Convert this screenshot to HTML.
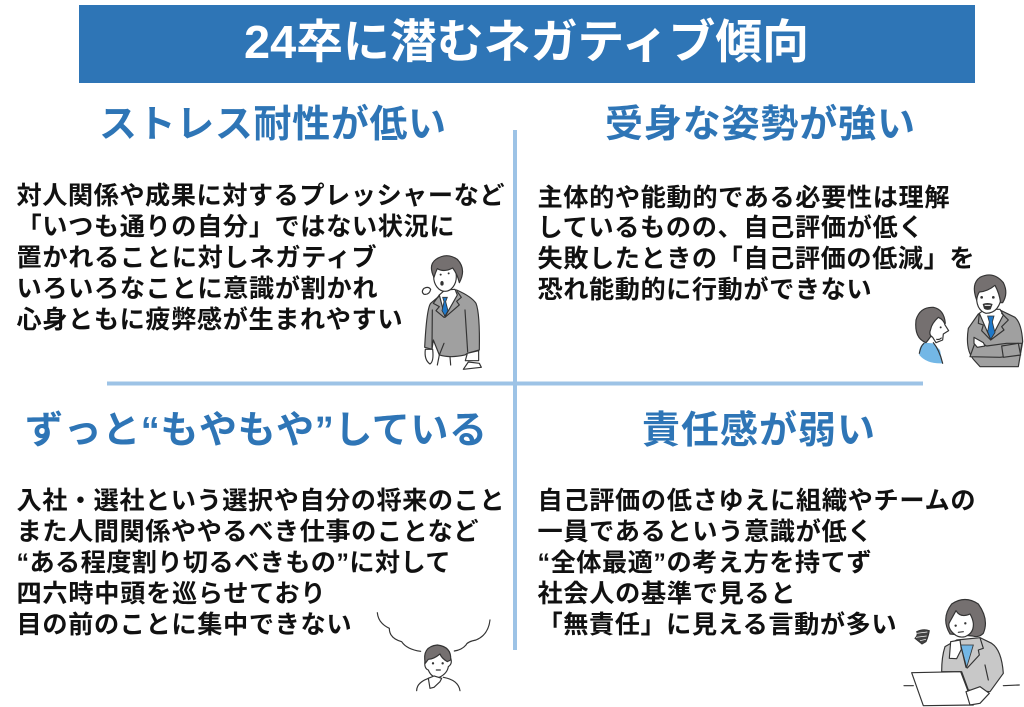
<!DOCTYPE html>
<html lang="ja">
<head>
<meta charset="utf-8">
<style>
html,body{margin:0;padding:0;background:#fff;width:1024px;height:707px;overflow:hidden}
svg{display:block}
text{font-family:"Liberation Sans","Noto Sans CJK JP",sans-serif;font-weight:700}
.b{font-size:25.2px;fill:#111}
.h{font-size:38px;fill:#2e75b6}
.s{stroke:#333;stroke-width:3.5;fill:none;stroke-linecap:round;stroke-linejoin:round}
.g{fill:#a0a0a0}.d{fill:#757070}.w{fill:#fff}.l{fill:#c8c8c8}.u{fill:#1f78c8}.c{fill:#73b7e6}
</style>
</head>
<body>
<svg width="1024" height="707" viewBox="0 0 1024 707" xmlns="http://www.w3.org/2000/svg">
<rect width="1024" height="707" fill="#fff"/>
<rect x="79" y="5" width="896" height="78" fill="#2e75b6"/>
<text x="244" y="58" font-size="46.5" fill="#fff" textLength="565" lengthAdjust="spacingAndGlyphs">24卒に潜むネガティブ傾向</text>

<rect x="513" y="130" width="4" height="520" fill="#9dc3e6"/>
<rect x="107" y="381.500" width="816" height="4" fill="#9dc3e6"/>

<text class="h" x="99" y="137" textLength="347">ストレス耐性が低い</text>
<text class="h" x="605" y="137" textLength="310">受身な姿勢が強い</text>
<text class="h" x="25" y="443" textLength="462">ずっと“もやもや”している</text>
<text class="h" x="642" y="443" textLength="233">責任感が弱い</text>

<text class="b" x="16.500" y="204" textLength="488">対人関係や成果に対するプレッシャーなど</text>
<text class="b" x="16.500" y="235" textLength="438">「いつも通りの自分」ではない状況に</text>
<text class="b" x="16.500" y="266" textLength="360">置かれることに対しネガティブ</text>
<text class="b" x="16.500" y="297" textLength="361">いろいろなことに意識が割かれ</text>
<text class="b" x="16.500" y="328" textLength="386">心身ともに疲弊感が生まれやすい</text>

<text class="b" x="537.500" y="206" textLength="412">主体的や能動的である必要性は理解</text>
<text class="b" x="537.500" y="236" textLength="386">しているものの、自己評価が低く</text>
<text class="b" x="537.500" y="267" textLength="437">失敗したときの「自己評価の低減」を</text>
<text class="b" x="537.500" y="298" textLength="334">恐れ能動的に行動ができない</text>

<text class="b" x="16.500" y="509" textLength="488">入社・選社という選択や自分の将来のこと</text>
<text class="b" x="16.500" y="540" textLength="462">また人間関係ややるべき仕事のことなど</text>
<text class="b" x="16.500" y="571" textLength="434">“ある程度割り切るべきもの”に対して</text>
<text class="b" x="16.500" y="602" textLength="309">四六時中頭を巡らせており</text>
<text class="b" x="16.500" y="633" textLength="335">目の前のことに集中できない</text>

<text class="b" x="537.500" y="509" textLength="438">自己評価の低さゆえに組織やチームの</text>
<text class="b" x="537.500" y="540" textLength="335">一員であるという意識が低く</text>
<text class="b" x="537.500" y="571" textLength="334">“全体最適”の考え方を持てず</text>
<text class="b" x="537.500" y="602" textLength="258">社会人の基準で見ると</text>
<text class="b" x="537.500" y="633" textLength="359">「無責任」に見える言動が多い</text>

<!-- person 1 -->
<g transform="translate(400 240) scale(.3333)">
<path class="s g" d="M118,168 L92,190 Q80,205 74,322 L96,328 L100,300 L118,345 Q150,355 195,345 L202,340 L238,330 Q240,220 228,190 Q215,170 170,150 L130,160Z"/>
<path class="s w" d="M118,165 L135,150 L165,148 L172,165 L135,230Z"/>
<path d="M128,172 L142,172 L137,185 L144,212 L135,228 L126,212 L132,185Z" class="u" stroke="#333" stroke-width="2.500"/>
<path class="s" d="M118,165 L100,190 L118,200 L108,212 L132,232 M172,155 L184,172 L170,184 L178,195 L135,232 M97,210 L96,325 M195,210 L203,335 M132,310 L118,345 M150,350 L152,375 M118,345 L112,375"/>
<ellipse class="s w" cx="135" cy="110" rx="34" ry="44"/>
<path class="s d" d="M102,112 Q84,75 108,58 Q140,36 172,58 Q200,88 178,128 Q172,102 158,84 Q132,98 112,86 Q106,98 102,112Z"/>
<path class="s w" d="M76,328 Q72,360 90,372 Q102,365 98,328Z"/>
<path class="s w" d="M202,340 L196,362 L236,362 L236,332Z"/>
<path class="s" fill="#555" d="M190,388 L205,366 L238,370 L244,382Z"/>
<path d="M72,145 Q62,155 72,163 Q88,165 92,148 Q85,138 72,145" class="s" stroke-width="3"/>
<ellipse cx="126" cy="130" rx="5" ry="7" fill="#333"/>
<circle cx="122" cy="104" r="3" fill="#333"/><circle cx="146" cy="100" r="3" fill="#333"/>
</g>

<!-- people 2 -->
<g transform="translate(900 260) scale(.3333)">
<path class="s g" d="M235,162 L205,205 Q195,270 222,300 L240,320 L355,320 L368,245 Q365,190 345,172 L300,150Z"/>
<path class="s w" d="M238,160 L255,148 L300,148 L310,165 L272,238Z"/>
<path class="u" stroke="#333" stroke-width="2.500" d="M263,168 L282,168 L277,186 L285,218 L272,238 L263,215 L268,186Z"/>
<path class="s" d="M238,160 L235,190 L250,195 L245,212 L272,240 M305,160 L325,180 L305,200 L312,210 L272,240"/>
<path class="s g" d="M228,240 L210,290 L300,292 L360,285 L366,250 L320,250 L260,258Z"/>
<path class="s g" d="M305,258 L355,250 L362,285 L310,292Z"/>
<path class="s w" d="M222,232 L250,248 L255,258 L232,262 L222,250Z"/>
<path class="s w" d="M230,100 Q226,150 258,160 Q300,160 306,100 L300,75 L240,75Z"/>
<path class="s d" d="M230,120 Q212,72 240,52 Q280,32 310,68 Q326,100 308,128 L302,128 Q298,100 285,76 Q262,95 238,96 Q232,105 230,120Z"/>
<circle cx="245" cy="112" r="4" fill="#333"/><circle cx="280" cy="112" r="4" fill="#333"/>
<path d="M248,132 Q262,126 278,132 L272,148 Q258,152 252,146Z" fill="#333"/>
<path d="M254,136 L272,136" stroke="#fff" stroke-width="3"/>
<path class="c" d="M58,285 Q55,260 72,248 L100,250 L120,270 L128,310 Q80,312 58,285Z"/>
<path class="s" d="M100,248 Q118,270 128,310 M72,250 Q62,258 58,280"/>
<path class="s d" d="M78,248 Q42,235 48,180 Q60,140 100,142 Q132,148 136,190 L100,200 L95,225 Q85,240 78,248Z"/>
<path class="s w" d="M92,208 Q95,190 115,172 Q132,180 135,195 L146,212 L130,222 L128,240 L108,248 L98,232 Q85,225 92,208Z"/>
<circle cx="122" cy="202" r="3" fill="#333"/>
<path class="s" d="M110,238 Q118,240 124,234"/>
</g>

<!-- person 3 -->
<g transform="translate(360 600) scale(.3333)">
<path class="s" stroke-width="4" d="M52,38 Q55,70 88,85 Q88,115 125,125 Q140,148 182,154 M390,60 Q385,105 348,120 Q322,125 318,135 Q305,150 283,153"/>
<path class="s" stroke-width="4" d="M170,272 Q170,245 215,232 M250,232 Q295,240 300,272"/>
<path class="s w" d="M196,175 Q190,205 205,210 Q215,235 238,232 Q262,220 265,200 Q280,190 270,170 L235,150Z"/>
<path class="s d" d="M196,190 Q185,140 232,135 Q275,140 272,180 L262,185 Q245,175 240,162 Q220,178 205,178 Z"/>
<circle cx="219" cy="190" r="3.500" fill="#333"/><circle cx="248" cy="190" r="3.500" fill="#333"/>
<path class="s" stroke-width="2.500" d="M229,210 L241,210"/>
<path class="s w" d="M205,235 L222,228 L245,235 L240,245 L222,262 L210,265Z"/>
</g>

<!-- person 4 -->
<g transform="translate(890 590) scale(.3333)">
<path class="s l" d="M165,170 Q155,200 155,245 L215,245 L235,300 L300,305 L340,250 Q335,180 305,160 L270,143 L200,150Z"/>
<path class="c" stroke="#333" stroke-width="2.500" d="M212,165 L250,165 L230,232Z"/>
<path class="s" d="M270,143 L280,175 L265,180 L268,195 L232,234 M212,165 L228,232 M285,225 L295,270"/>
<path class="s d" d="M180,132 Q152,85 185,42 Q225,15 265,42 Q298,88 280,130 Q266,144 248,138 L180,132Z"/>
<path class="s w" d="M178,98 Q172,112 190,130 Q205,145 225,140 Q252,130 250,100 Q248,85 240,72 Q212,85 198,62Z"/>
<circle cx="197" cy="107" r="3.500" fill="#333"/><circle cx="226" cy="100" r="3.500" fill="#333"/>
<path class="s" stroke-width="2.500" d="M205,127 L220,125"/>
<path class="s w" d="M182,155 L210,150 L214,178 L200,206 L178,205Z"/>
<path class="s" stroke-width="4" d="M42,287 L70,287 M340,287 L388,285"/>
<path class="s w" d="M65,248 L212,245 L250,345 L100,347Z"/>
<path class="s w" d="M228,305 L270,290 L298,310 L270,340 L240,345Z"/>
<path fill="#444" stroke="#333" stroke-width="3" d="M80,125 Q100,115 118,122 Q115,140 108,155 L96,162 L75,145 Q85,135 80,125Z"/>
<path d="M80,130 L112,126 M78,142 L110,138 M90,152 L108,148" stroke="#fff" stroke-width="2"/>
</g>
</svg>
</body>
</html>
